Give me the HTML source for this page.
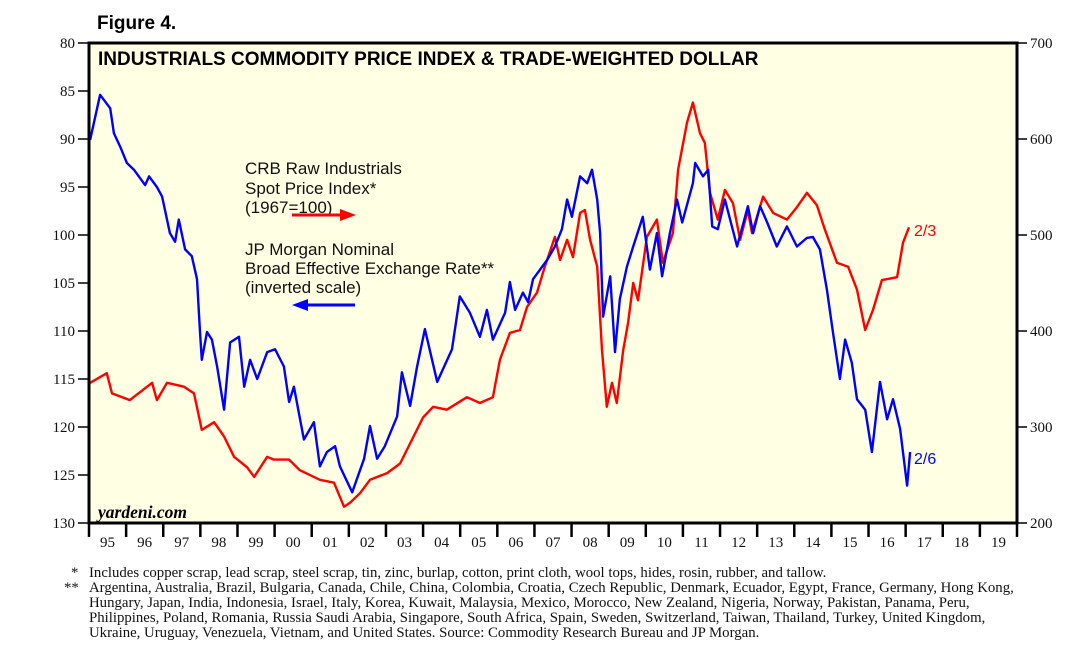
<!DOCTYPE html>
<html><head><meta charset="utf-8"><style>
body{margin:0;background:#fff;width:1085px;height:654px;overflow:hidden}
svg{display:block}
.ax{font-family:"Liberation Serif",serif;font-size:15px;fill:#111}
.fn{font-family:"Liberation Serif",serif;font-size:14.8px;fill:#111}
.an{font-family:"Liberation Sans",sans-serif;font-size:17px;fill:#111}
</style></head><body>
<svg id="chart" width="1085" height="654" viewBox="0 0 1085 654">
<text x="97" y="29" font-family="Liberation Sans,sans-serif" font-weight="bold" font-size="19">Figure 4.</text>
<rect x="89" y="43" width="928" height="480" fill="#ffffe4"/>
<text x="98" y="65" font-family="Liberation Sans,sans-serif" font-weight="bold" font-size="19">INDUSTRIALS COMMODITY PRICE INDEX &amp; TRADE-WEIGHTED DOLLAR</text>
<g id="axes"></g>
<g id="series"></g>
<rect x="89" y="43" width="928" height="480" fill="none" stroke="#000" stroke-width="3"/>
<g>
<text class="an" x="245" y="174">CRB Raw Industrials</text>
<text class="an" x="245" y="194">Spot Price Index*</text>
<text class="an" x="245" y="213">(1967=100)</text>
<line x1="292" y1="215" x2="342" y2="215" stroke="#f00" stroke-width="3"/>
<polygon points="356,215 340,209 340,221" fill="#f00"/>
</g>
<g>
<text class="an" x="245" y="255">JP Morgan Nominal</text>
<text class="an" x="245" y="274">Broad Effective Exchange Rate**</text>
<text class="an" x="245" y="293">(inverted scale)</text>
<line x1="306" y1="305" x2="355" y2="305" stroke="#00f" stroke-width="3"/>
<polygon points="292,305 308,299 308,311" fill="#00f"/>
</g>
<text x="914" y="236" font-family="Liberation Sans,sans-serif" font-size="16" fill="#f00">2/3</text>
<text x="914" y="464" font-family="Liberation Sans,sans-serif" font-size="16" fill="#00f">2/6</text>
<text x="98" y="518" font-family="Liberation Serif,serif" font-style="italic" font-weight="bold" font-size="17.5">yardeni.com</text>
<g>
<text class="fn" x="71" y="577" fill="#a33">*</text>
<text class="fn" x="89" y="577">Includes copper scrap, lead scrap, steel scrap, tin, zinc, burlap, cotton, print cloth, wool tops, hides, rosin, rubber, and tallow.</text>
<text class="fn" x="64" y="592" fill="#a33">**</text>
<text class="fn" x="89" y="592">Argentina, Australia, Brazil, Bulgaria, Canada, Chile, China, Colombia, Croatia, Czech Republic, Denmark, Ecuador, Egypt, France, Germany, Hong Kong,</text>
<text class="fn" x="89" y="607">Hungary, Japan, India, Indonesia, Israel, Italy, Korea, Kuwait, Malaysia, Mexico, Morocco, New Zealand, Nigeria, Norway, Pakistan, Panama, Peru,</text>
<text class="fn" x="89" y="622">Philippines, Poland, Romania, Russia Saudi Arabia, Singapore, South Africa, Spain, Sweden, Switzerland, Taiwan, Thailand, Turkey, United Kingdom,</text>
<text class="fn" x="89" y="637">Ukraine, Uruguay, Venezuela, Vietnam, and United States. Source: Commodity Research Bureau and JP Morgan.</text>
</g>
</svg>
<script>
const yearLabels=["95","96","97","98","99","00","01","02","03","04","05","06","07","08","09","10","11","12","13","14","15","16","17","18","19"];
const leftTicks=[80,85,90,95,100,105,110,115,120,125,130];
const rightTicks=[700,600,500,400,300,200];
const dollarDates=[1995.03,1995.30,1995.57,1995.67,1995.84,1996.02,1996.21,1996.51,1996.62,1996.83,1996.97,1997.18,1997.32,1997.42,1997.59,1997.77,1997.91,1997.99,1998.04,1998.18,1998.31,1998.45,1998.64,1998.80,1999.04,1999.18,1999.34,1999.53,1999.80,2000.01,2000.25,2000.39,2000.52,2000.79,2001.06,2001.22,2001.41,2001.63,2001.76,2002.09,2002.41,2002.57,2002.76,2002.97,2003.30,2003.43,2003.65,2003.84,2004.05,2004.38,2004.78,2004.99,2005.26,2005.53,2005.72,2005.88,2006.21,2006.34,2006.48,2006.69,2006.83,2006.96,2007.34,2007.55,2007.74,2007.88,2008.01,2008.23,2008.42,2008.55,2008.69,2008.77,2008.85,2009.04,2009.17,2009.30,2009.49,2009.66,2009.92,2010.11,2010.30,2010.44,2010.65,2010.84,2010.98,2011.27,2011.33,2011.54,2011.68,2011.79,2011.94,2012.13,2012.46,2012.75,2012.89,2013.08,2013.27,2013.53,2013.80,2014.07,2014.34,2014.50,2014.69,2014.88,2015.04,2015.23,2015.37,2015.55,2015.69,2015.91,2016.09,2016.31,2016.50,2016.66,2016.85,2017.04,2017.12];
const dollarValues=[90.1,85.4,86.8,89.4,90.8,92.5,93.2,94.8,93.9,95,96,99.8,100.7,98.4,101.5,102.2,104.6,110.1,113,110.1,110.9,113.7,118.2,111.2,110.6,115.8,113,115,112.2,111.9,113.7,117.4,115.8,121.3,119.5,124.1,122.6,122,124.1,126.8,123.3,119.9,123.3,122,118.9,114.3,117.8,113.7,109.8,115.3,111.9,106.4,108.1,110.6,107.8,110.9,108.1,104.9,107.8,106,107,104.6,102.6,101.2,99.4,96.3,98.1,93.9,94.6,93.2,96.3,99.8,108.5,104.3,112.2,106.7,103.3,101.2,98.1,103.6,99.8,104.3,99.8,96.3,98.7,94.6,92.5,93.9,93.2,99.1,99.4,96.3,101.2,97,99.8,97,98.7,101.2,99.1,101.2,100.3,100.2,101.5,105.7,110.1,115,110.9,113.3,117.1,118.2,122.6,115.3,119.2,117.1,120.2,126.1,122.6];
const crbDates=[1995.03,1995.48,1995.62,1996.10,1996.70,1996.83,1997.10,1997.56,1997.83,1998.04,1998.37,1998.64,1998.91,1999.26,1999.45,1999.80,1999.98,2000.39,2000.68,2001.22,2001.60,2001.87,2002.03,2002.30,2002.57,2003.03,2003.38,2004.00,2004.27,2004.64,2005.18,2005.53,2005.88,2006.07,2006.34,2006.61,2006.80,2007.07,2007.28,2007.55,2007.69,2007.88,2008.04,2008.23,2008.36,2008.50,2008.69,2008.82,2008.95,2009.09,2009.22,2009.39,2009.52,2009.66,2009.79,2010.03,2010.30,2010.46,2010.73,2010.87,2011.11,2011.27,2011.46,2011.59,2011.73,2011.94,2012.13,2012.35,2012.54,2012.75,2012.86,2013.16,2013.43,2013.80,2014.07,2014.34,2014.61,2014.83,2015.15,2015.45,2015.69,2015.91,2016.12,2016.36,2016.77,2016.93,2017.09];
const crbValues=[346,356,335,328,346,328,346,342,335,297,305,290,269,258,248,269,266,266,255,245,242,217,221,231,245,252,262,310,321,318,331,325,331,370,398,401,425,440,467,498,474,495,477,523,526,495,467,380,321,346,325,380,408,450,432,498,516,471,502,568,617,638,606,596,544,516,547,533,495,526,502,540,523,516,529,544,531,505,471,467,443,401,422,453,456,492,508];
const NS='http://www.w3.org/2000/svg';
const L=89,R=1017,T=43,B=523;
const x=t=>L+(t-1995)*(R-L)/25;
const yL=v=>T+(v-80)*(B-T)/50;
const yR=v=>T+(700-v)*(B-T)/500;
function mk(tag,attrs,parent){const e=document.createElementNS(NS,tag);for(const k in attrs)e.setAttribute(k,attrs[k]);parent.appendChild(e);return e;}
const axes=document.getElementById('axes'),ser=document.getElementById('series');
leftTicks.forEach(v=>{
 const ln=mk('line',{x1:78,x2:89,y1:yL(v),y2:yL(v),stroke:'#000','stroke-width':1.5},axes);
 
 
 const t=mk('text',{x:75,y:yL(v)+5,'text-anchor':'end',class:'ax'},axes);t.textContent=v;
 
 
});
rightTicks.forEach(v=>{
 const ln=mk('line',{x1:1017,x2:1027,y1:yR(v),y2:yR(v),stroke:'#000','stroke-width':1.5},axes);
 
 
 const t=mk('text',{x:1030,y:yR(v)+5,class:'ax'},axes);t.textContent=v;
 
 
});
yearLabels.forEach((lab,i)=>{
 const ln=mk('line',{x1:x(1995+i),x2:x(1995+i),y1:523,y2:537,stroke:'#000','stroke-width':2.5},axes);
 
 
 const t=mk('text',{x:x(1995.5+i),y:547,'text-anchor':'middle',class:'ax'},axes);t.textContent=lab;
 
 
});
const lnx=mk('line',{x1:1017,x2:1017,y1:523,y2:537,stroke:'#000','stroke-width':2.5},axes);


const pr=crbDates.map((d,i)=>x(d).toFixed(1)+','+yR(crbValues[i]).toFixed(1)).join(' ');
const red=mk('polyline',{points:pr,fill:'none',stroke:'#f00','stroke-width':2.4,'stroke-linejoin':'round'},ser);


const pb=dollarDates.map((d,i)=>x(d).toFixed(1)+','+yL(dollarValues[i]).toFixed(1)).join(' ');
const blue=mk('polyline',{points:pb,fill:'none',stroke:'#00f','stroke-width':2.4,'stroke-linejoin':'round'},ser);


</script>
</body></html>
